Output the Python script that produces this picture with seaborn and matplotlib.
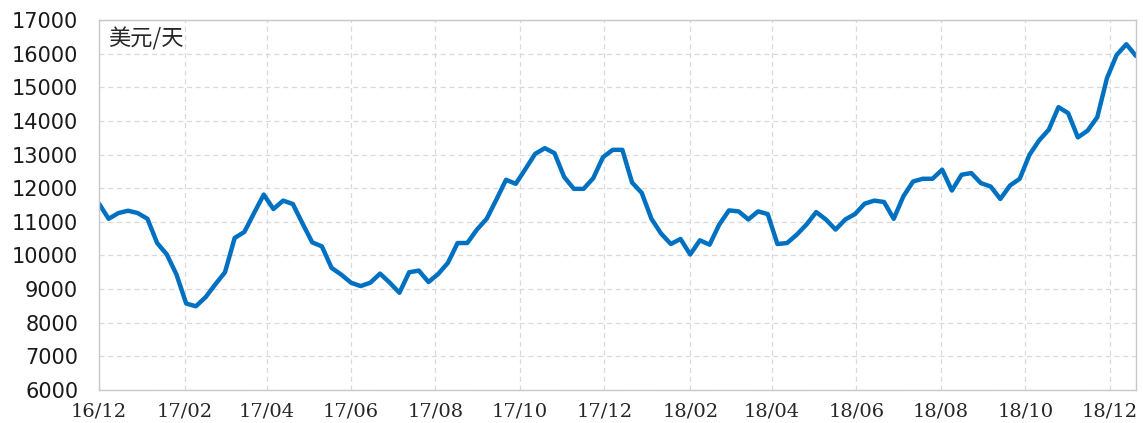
import pandas as pd
import seaborn as sns
import matplotlib.pyplot as plt

# weekly rate, USD per day
start_date = "2016-12-01"
rate = [
    11540, 11090, 11260, 11330, 11260, 11090, 10370, 10030, 9430, 8570,
    8490, 8760, 9140, 9500, 10520, 10700, 11260, 11810, 11380, 11630,
    11530, 10950, 10390, 10270, 9630, 9430, 9190, 9090, 9190, 9460,
    9190, 8890, 9500, 9550, 9210, 9450, 9780, 10370, 10370, 10770,
    11090, 11660, 12250, 12130, 12570, 13020, 13190, 13040, 12330, 11980,
    11980, 12300, 12920, 13140, 13140, 12170, 11860, 11090, 10650, 10340,
    10490, 10030, 10450, 10320, 10920, 11340, 11310, 11070, 11310, 11230,
    10340, 10370, 10620, 10920, 11290, 11070, 10770, 11070, 11230, 11540,
    11630, 11590, 11090, 11760, 12200, 12280, 12280, 12550, 11930, 12400,
    12450, 12150, 12050, 11680, 12080, 12280, 12990, 13420, 13740, 14410,
    14230, 13510, 13710, 14110, 15270, 15960, 16280, 15930,
]
tick_labels = ["16/12", "17/02", "17/04", "17/06", "17/08", "17/10", "17/12",
               "18/02", "18/04", "18/06", "18/08", "18/10", "18/12"]
y_ticks = list(range(6000, 17001, 1000))
unit_label = "美元/天"

df = pd.DataFrame({
    "date": pd.date_range(start_date, periods=len(rate), freq="7D"),
    "rate": rate,
})

sns.set_style("white")
plt.rcParams["font.family"] = ["Noto Sans CJK SC", "DejaVu Sans"]

fig = plt.figure(figsize=(11.43, 4.23), dpi=100)
ax = fig.add_axes([0.0866, 0.078, 0.9073, 0.8747])

sns.lineplot(data=df, x="date", y="rate", ax=ax, color="#0070C0", linewidth=3.2)

ax.set_xlim(df["date"].iloc[0], df["date"].iloc[-1])
ax.set_ylim(6000, 17000)

tick_dates = pd.date_range(start_date, periods=len(tick_labels), freq="2MS")
ax.set_xticks(tick_dates)
ax.set_xticklabels(tick_labels, family="DejaVu Serif", fontsize=14, color="#262626")
ax.set_yticks(y_ticks)
ax.set_yticklabels([str(v) for v in y_ticks], family="DejaVu Sans", fontsize=15, color="#1a1a1a")
ax.tick_params(axis="x", length=0, pad=9)
ax.tick_params(axis="y", length=0, pad=15)

ax.grid(True, linestyle=(0, (4, 3)), color="#d9d9d9", linewidth=0.9)
for s in ax.spines.values():
    s.set_color("#c8c8c8")
    s.set_linewidth(1.0)

ax.set_xlabel("")
ax.set_ylabel("")
ax.text(0.009, 0.95, unit_label, transform=ax.transAxes, fontsize=16,
        color="#262626", va="center", ha="left")

fig.savefig("out.png", dpi=100)
